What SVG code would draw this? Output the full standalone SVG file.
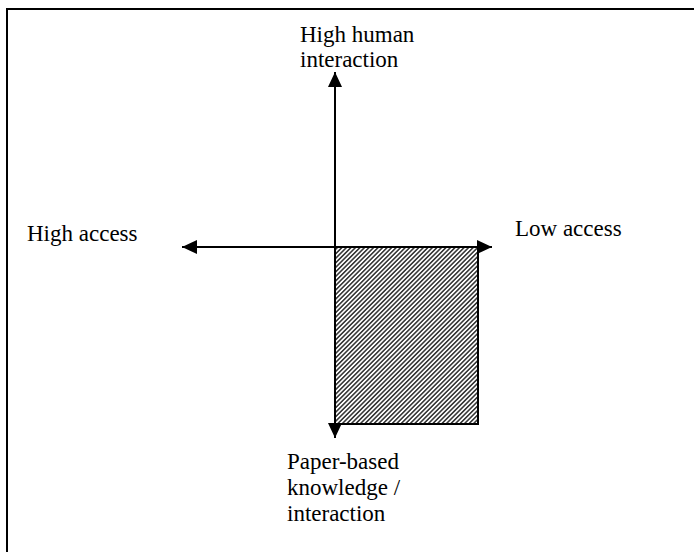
<svg xmlns="http://www.w3.org/2000/svg" width="694" height="552" viewBox="0 0 694 552">
<style>
.t{font-family:"Liberation Serif","Times New Roman",serif;font-size:23px;fill:#000}
.ax{stroke:#000;stroke-width:2;fill:none}
</style>
<defs>
<pattern id="hatch" patternUnits="userSpaceOnUse" width="3.2" height="3.2" patternTransform="rotate(45)">
<rect width="3.2" height="3.2" fill="#fff"/>
<line x1="0.8" y1="0" x2="0.8" y2="3.2" stroke="#3a3a3a" stroke-width="1.6"/>
</pattern>
<marker id="ah" viewBox="0 0 15 14" refX="15" refY="7" markerWidth="15" markerHeight="14" markerUnits="userSpaceOnUse" orient="auto">
<path d="M0,0 L15,7 L0,14 Z" fill="#000"/>
</marker>
</defs>
<rect width="694" height="552" fill="#fff"/>
<g id="frame">
<path d="M7,560 L7,9 L700,9" fill="none" stroke="#000" stroke-width="2"/>
</g>
<g id="shaded-region">
<rect x="335" y="247" width="143" height="177" fill="url(#hatch)" stroke="#000" stroke-width="2"/>
</g>
<g id="connectors">
<line class="ax" x1="335" y1="247" x2="335" y2="72" marker-end="url(#ah)"/>
<line class="ax" x1="335" y1="247" x2="335" y2="438" marker-end="url(#ah)"/>
<line class="ax" x1="335" y1="247" x2="182" y2="247" marker-end="url(#ah)"/>
<line class="ax" x1="335" y1="247" x2="492" y2="247" marker-end="url(#ah)"/>
</g>
<g id="label-top">
<text class="t" x="300" y="42">High human</text>
<text class="t" x="300" y="67">interaction</text>
</g>
<g id="label-left">
<text class="t" x="27" y="241">High access</text>
</g>
<g id="label-right">
<text class="t" x="515" y="236">Low access</text>
</g>
<g id="label-bottom">
<text class="t" x="287" y="469">Paper-based</text>
<text class="t" x="287" y="495">knowledge /</text>
<text class="t" x="287" y="521">interaction</text>
</g>
</svg>
